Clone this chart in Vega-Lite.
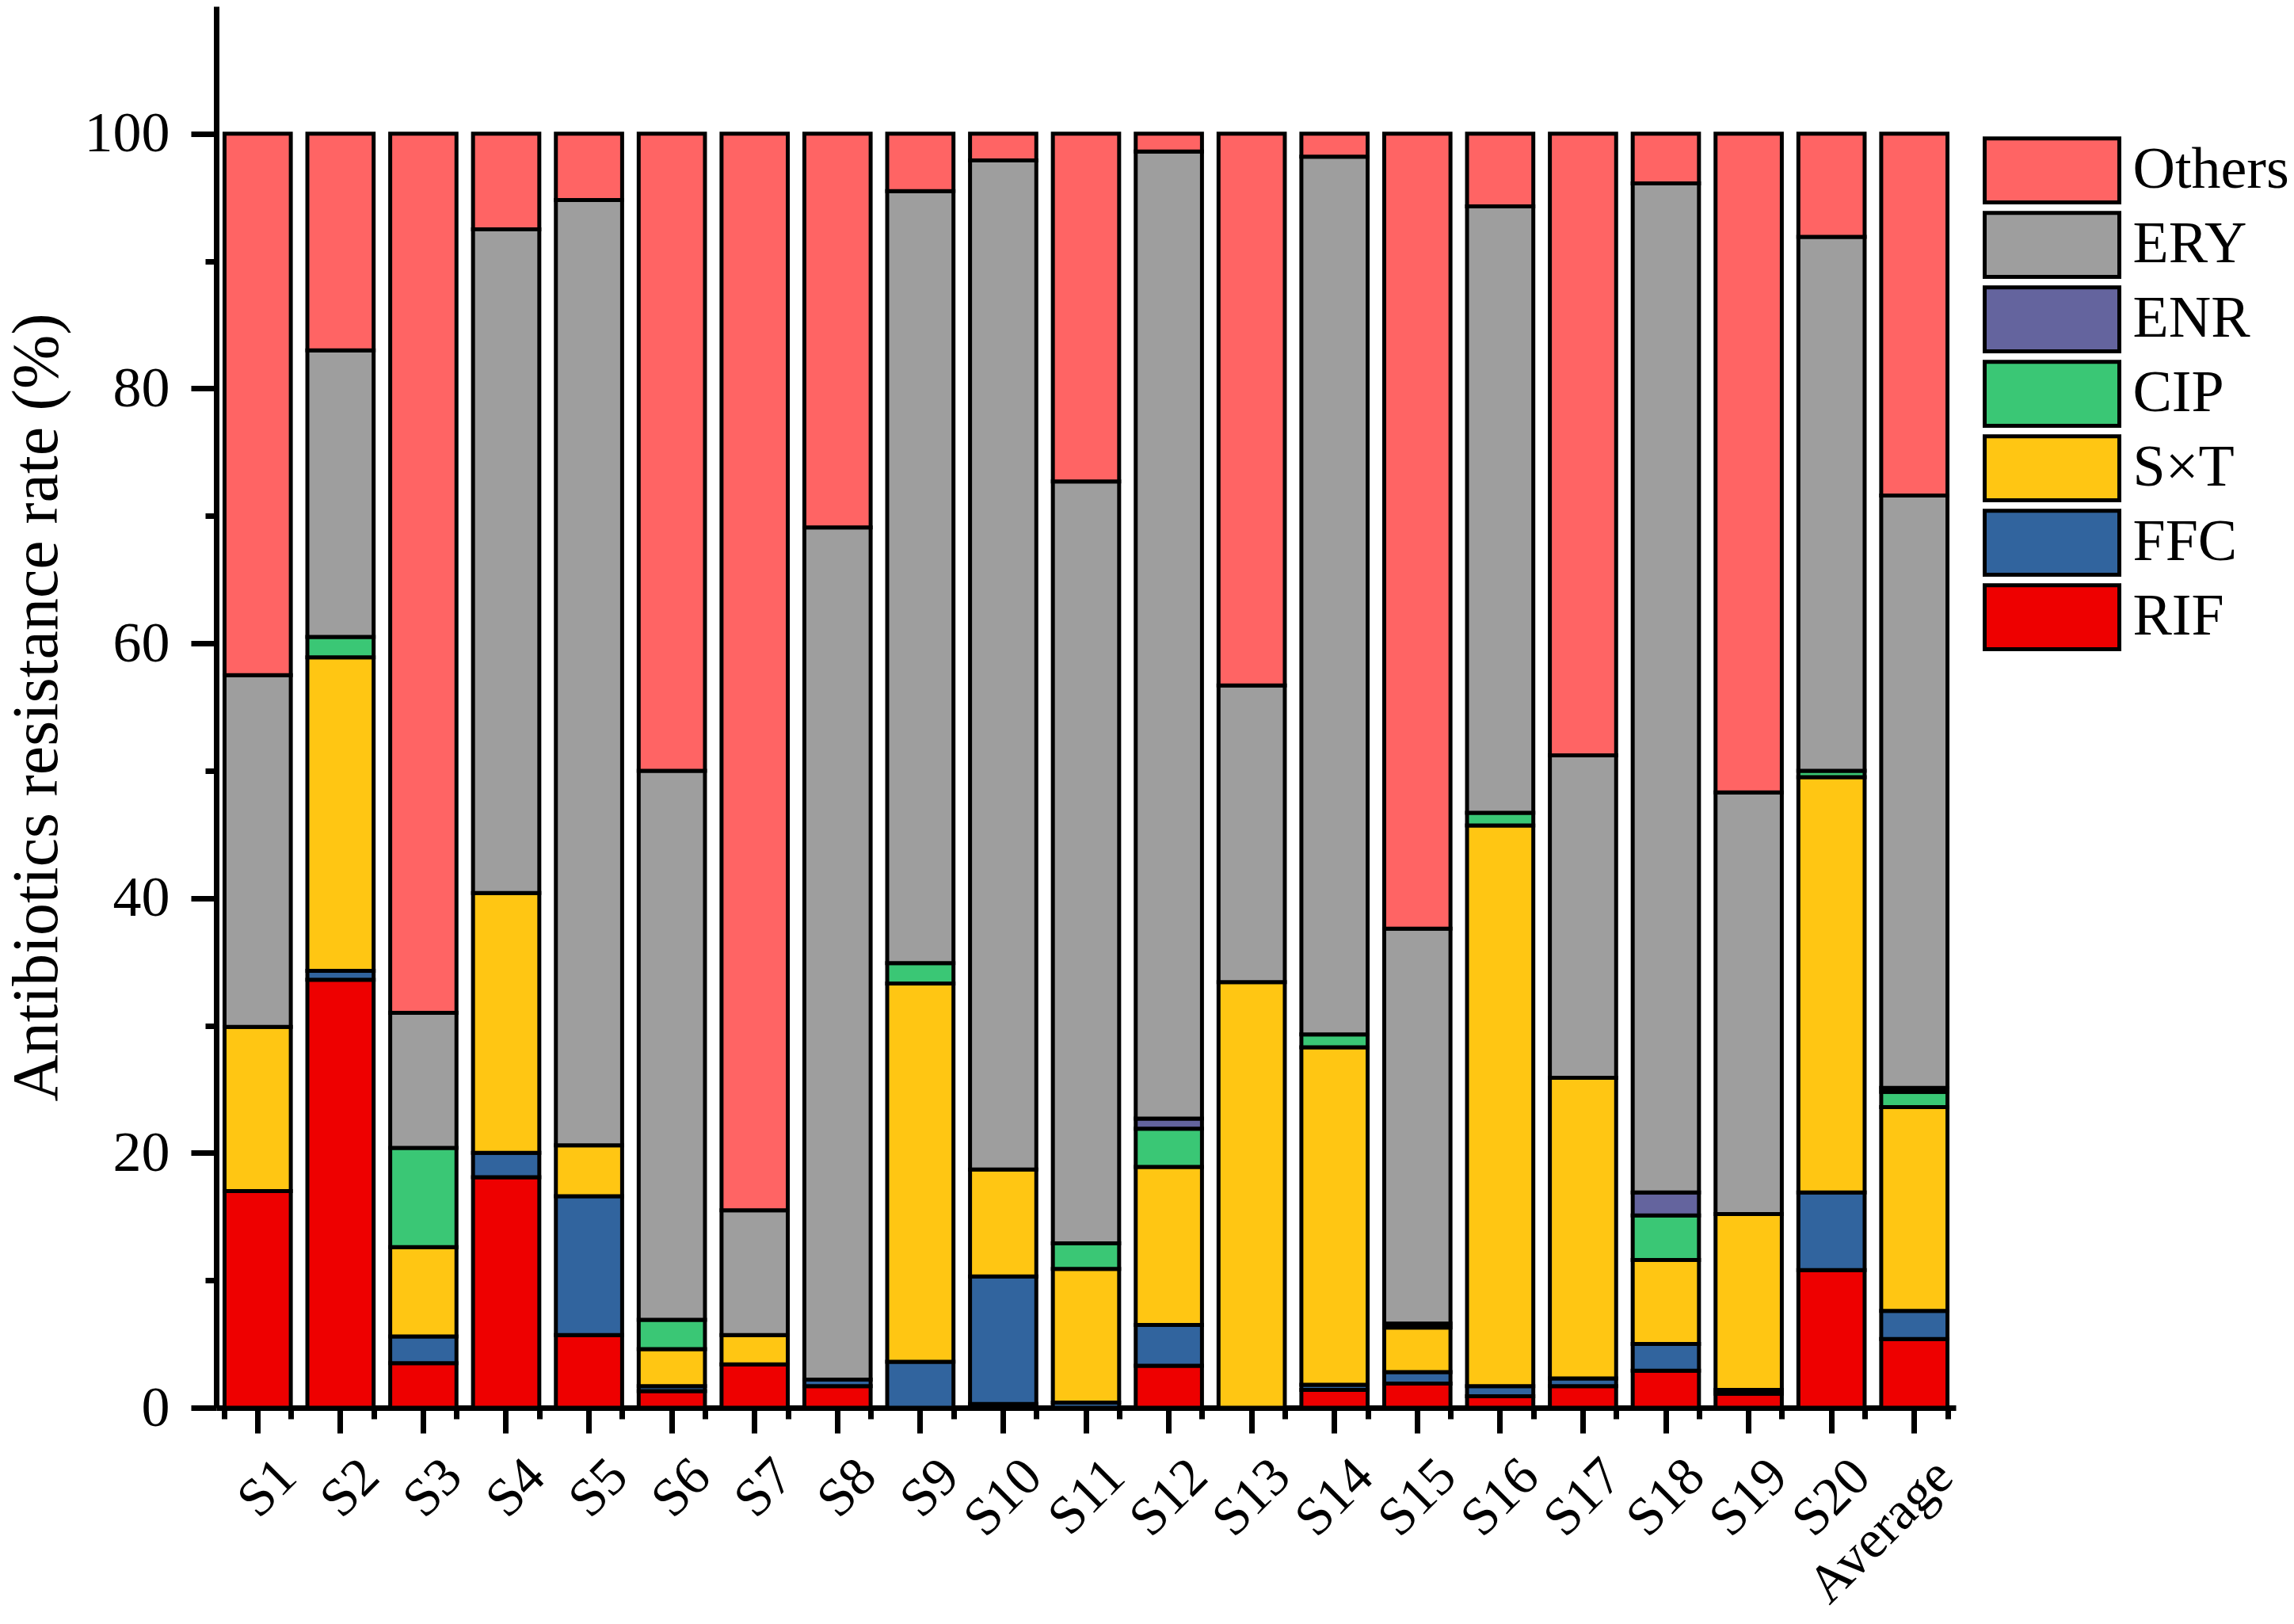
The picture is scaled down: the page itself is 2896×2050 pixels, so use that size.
{
  "$schema": "https://vega.github.io/schema/vega-lite/v6.json",
  "width": 2196,
  "height": 1769,
  "autosize": {"type": "none"},
  "padding": {"left": 273, "top": 8, "right": 427, "bottom": 273},
  "background": "white",
  "config": {
    "font": "Liberation Serif",
    "view": {"stroke": null},
    "axis": {
      "labelFont": "Liberation Serif",
      "titleFont": "Liberation Serif",
      "labelColor": "black",
      "titleColor": "black",
      "domainColor": "black",
      "tickColor": "black",
      "domainWidth": 7,
      "tickWidth": 7,
      "grid": false,
      "labelFontSize": 72,
      "titleFontSize": 82,
      "titleFontWeight": "normal"
    }
  },
  "datasets": {
    "rates": [
      {"site": "S1", "drug": "RIF", "rate": 17.0},
      {"site": "S1", "drug": "S×T", "rate": 12.9},
      {"site": "S1", "drug": "ERY", "rate": 27.6},
      {"site": "S1", "drug": "Others", "rate": 42.5},
      {"site": "S2", "drug": "RIF", "rate": 33.6},
      {"site": "S2", "drug": "FFC", "rate": 0.7},
      {"site": "S2", "drug": "S×T", "rate": 24.6},
      {"site": "S2", "drug": "CIP", "rate": 1.6},
      {"site": "S2", "drug": "ERY", "rate": 22.5},
      {"site": "S2", "drug": "Others", "rate": 17.0},
      {"site": "S3", "drug": "RIF", "rate": 3.5},
      {"site": "S3", "drug": "FFC", "rate": 2.1},
      {"site": "S3", "drug": "S×T", "rate": 7.0},
      {"site": "S3", "drug": "CIP", "rate": 7.8},
      {"site": "S3", "drug": "ERY", "rate": 10.6},
      {"site": "S3", "drug": "Others", "rate": 69.0},
      {"site": "S4", "drug": "RIF", "rate": 18.1},
      {"site": "S4", "drug": "FFC", "rate": 1.9},
      {"site": "S4", "drug": "S×T", "rate": 20.4},
      {"site": "S4", "drug": "ERY", "rate": 52.1},
      {"site": "S4", "drug": "Others", "rate": 7.5},
      {"site": "S5", "drug": "RIF", "rate": 5.7},
      {"site": "S5", "drug": "FFC", "rate": 10.9},
      {"site": "S5", "drug": "S×T", "rate": 4.0},
      {"site": "S5", "drug": "ERY", "rate": 74.2},
      {"site": "S5", "drug": "Others", "rate": 5.2},
      {"site": "S6", "drug": "RIF", "rate": 1.3},
      {"site": "S6", "drug": "FFC", "rate": 0.4},
      {"site": "S6", "drug": "S×T", "rate": 2.9},
      {"site": "S6", "drug": "CIP", "rate": 2.3},
      {"site": "S6", "drug": "ERY", "rate": 43.1},
      {"site": "S6", "drug": "Others", "rate": 50.0},
      {"site": "S7", "drug": "RIF", "rate": 3.4},
      {"site": "S7", "drug": "S×T", "rate": 2.3},
      {"site": "S7", "drug": "ERY", "rate": 9.8},
      {"site": "S7", "drug": "Others", "rate": 84.5},
      {"site": "S8", "drug": "RIF", "rate": 1.7},
      {"site": "S8", "drug": "FFC", "rate": 0.5},
      {"site": "S8", "drug": "ERY", "rate": 66.9},
      {"site": "S8", "drug": "Others", "rate": 30.9},
      {"site": "S9", "drug": "FFC", "rate": 3.6},
      {"site": "S9", "drug": "S×T", "rate": 29.7},
      {"site": "S9", "drug": "CIP", "rate": 1.6},
      {"site": "S9", "drug": "ERY", "rate": 60.6},
      {"site": "S9", "drug": "Others", "rate": 4.5},
      {"site": "S10", "drug": "RIF", "rate": 0.3},
      {"site": "S10", "drug": "FFC", "rate": 10.0},
      {"site": "S10", "drug": "S×T", "rate": 8.4},
      {"site": "S10", "drug": "ERY", "rate": 79.2},
      {"site": "S10", "drug": "Others", "rate": 2.1},
      {"site": "S11", "drug": "FFC", "rate": 0.4},
      {"site": "S11", "drug": "S×T", "rate": 10.5},
      {"site": "S11", "drug": "CIP", "rate": 2.0},
      {"site": "S11", "drug": "ERY", "rate": 59.8},
      {"site": "S11", "drug": "Others", "rate": 27.3},
      {"site": "S12", "drug": "RIF", "rate": 3.3},
      {"site": "S12", "drug": "FFC", "rate": 3.2},
      {"site": "S12", "drug": "S×T", "rate": 12.4},
      {"site": "S12", "drug": "CIP", "rate": 3.0},
      {"site": "S12", "drug": "ENR", "rate": 0.8},
      {"site": "S12", "drug": "ERY", "rate": 75.9},
      {"site": "S12", "drug": "Others", "rate": 1.4},
      {"site": "S13", "drug": "S×T", "rate": 33.4},
      {"site": "S13", "drug": "ERY", "rate": 23.3},
      {"site": "S13", "drug": "Others", "rate": 43.3},
      {"site": "S14", "drug": "RIF", "rate": 1.4},
      {"site": "S14", "drug": "FFC", "rate": 0.4},
      {"site": "S14", "drug": "S×T", "rate": 26.5},
      {"site": "S14", "drug": "CIP", "rate": 1.0},
      {"site": "S14", "drug": "ERY", "rate": 68.9},
      {"site": "S14", "drug": "Others", "rate": 1.8},
      {"site": "S15", "drug": "RIF", "rate": 1.9},
      {"site": "S15", "drug": "FFC", "rate": 0.9},
      {"site": "S15", "drug": "S×T", "rate": 3.5},
      {"site": "S15", "drug": "CIP", "rate": 0.3},
      {"site": "S15", "drug": "ERY", "rate": 31.0},
      {"site": "S15", "drug": "Others", "rate": 62.4},
      {"site": "S16", "drug": "RIF", "rate": 0.9},
      {"site": "S16", "drug": "FFC", "rate": 0.8},
      {"site": "S16", "drug": "S×T", "rate": 44.0},
      {"site": "S16", "drug": "CIP", "rate": 1.0},
      {"site": "S16", "drug": "ERY", "rate": 47.6},
      {"site": "S16", "drug": "Others", "rate": 5.7},
      {"site": "S17", "drug": "RIF", "rate": 1.7},
      {"site": "S17", "drug": "FFC", "rate": 0.6},
      {"site": "S17", "drug": "S×T", "rate": 23.6},
      {"site": "S17", "drug": "ERY", "rate": 25.3},
      {"site": "S17", "drug": "Others", "rate": 48.8},
      {"site": "S18", "drug": "RIF", "rate": 2.9},
      {"site": "S18", "drug": "FFC", "rate": 2.1},
      {"site": "S18", "drug": "S×T", "rate": 6.6},
      {"site": "S18", "drug": "CIP", "rate": 3.5},
      {"site": "S18", "drug": "ENR", "rate": 1.8},
      {"site": "S18", "drug": "ERY", "rate": 79.2},
      {"site": "S18", "drug": "Others", "rate": 3.9},
      {"site": "S19", "drug": "RIF", "rate": 1.1},
      {"site": "S19", "drug": "FFC", "rate": 0.3},
      {"site": "S19", "drug": "S×T", "rate": 13.8},
      {"site": "S19", "drug": "ERY", "rate": 33.1},
      {"site": "S19", "drug": "Others", "rate": 51.7},
      {"site": "S20", "drug": "RIF", "rate": 10.8},
      {"site": "S20", "drug": "FFC", "rate": 6.1},
      {"site": "S20", "drug": "S×T", "rate": 32.6},
      {"site": "S20", "drug": "CIP", "rate": 0.5},
      {"site": "S20", "drug": "ERY", "rate": 41.9},
      {"site": "S20", "drug": "Others", "rate": 8.1},
      {"site": "Average", "drug": "RIF", "rate": 5.4},
      {"site": "Average", "drug": "FFC", "rate": 2.2},
      {"site": "Average", "drug": "S×T", "rate": 16.0},
      {"site": "Average", "drug": "CIP", "rate": 1.2},
      {"site": "Average", "drug": "ENR", "rate": 0.3},
      {"site": "Average", "drug": "ERY", "rate": 46.5},
      {"site": "Average", "drug": "Others", "rate": 28.4}
    ]
  },
  "data": {"name": "rates"},
  "transform": [
    {"calculate": "indexof(['RIF','FFC','S×T','CIP','ENR','ERY','Others'], datum.drug)", "as": "rank"}
  ],
  "resolve": {"axis": {"x": "independent", "y": "independent"}},
  "layer": [
    {
      "mark": {"type": "bar", "stroke": "black", "strokeWidth": 5, "strokeJoin": "miter"},
      "encoding": {
        "x": {
          "field": "site",
          "type": "nominal",
          "sort": null,
          "scale": {"paddingInner": 0.2, "paddingOuter": 0.1},
          "axis": {
            "title": null,
            "orient": "bottom",
            "tickSize": 32,
            "labelAngle": -45,
            "labelAlign": "right",
            "labelBaseline": "top",
            "labelFontSize": 68,
            "labelOffset": 14,
            "labelPadding": 20,
            "labelLimit": 600
          }
        },
        "y": {
          "field": "rate",
          "type": "quantitative",
          "stack": "zero",
          "scale": {"domain": [0, 110], "nice": false},
          "axis": {
            "title": "Antibiotics resistance rate (%)",
            "orient": "left",
            "values": [0, 20, 40, 60, 80, 100],
            "tickSize": 32,
            "labelPadding": 27,
            "titlePadding": 18
          }
        },
        "color": {
          "field": "drug",
          "type": "nominal",
          "scale": {
            "domain": ["Others", "ERY", "ENR", "CIP", "S×T", "FFC", "RIF"],
            "range": ["#FF6464", "#9E9E9E", "#64649E", "#3AC775", "#FFC613", "#31649E", "#EE0000"]
          },
          "legend": {
            "title": null,
            "orient": "none",
            "legendX": 2230,
            "legendY": 164,
            "symbolType": "M0,-0.95L4,-0.95L4,0.95L0,0.95Z",
            "symbolSize": 7225,
            "symbolOffset": -42.5,
            "symbolStrokeColor": "black",
            "symbolStrokeWidth": 5,
            "symbolOpacity": 1,
            "clipHeight": 86,
            "labelOffset": 142,
            "labelFont": "Liberation Serif",
            "labelFontSize": 74,
            "labelColor": "black",
            "rowPadding": 8,
            "labelLimit": 400
          }
        },
        "order": {"field": "rank", "type": "quantitative"}
      }
    },
    {
      "mark": {"type": "bar", "opacity": 0},
      "encoding": {
        "x": {
          "field": "site",
          "type": "nominal",
          "sort": null,
          "axis": {
            "title": null,
            "orient": "bottom",
            "tickBand": "extent",
            "tickSize": 14,
            "labels": false,
            "domain": false
          }
        },
        "y": {
          "field": "rate",
          "type": "quantitative",
          "stack": "zero",
          "axis": {
            "title": null,
            "orient": "left",
            "values": [10, 30, 50, 70, 90],
            "tickSize": 14,
            "labels": false,
            "domain": false
          }
        },
        "order": {"field": "rank", "type": "quantitative"}
      }
    }
  ]
}
